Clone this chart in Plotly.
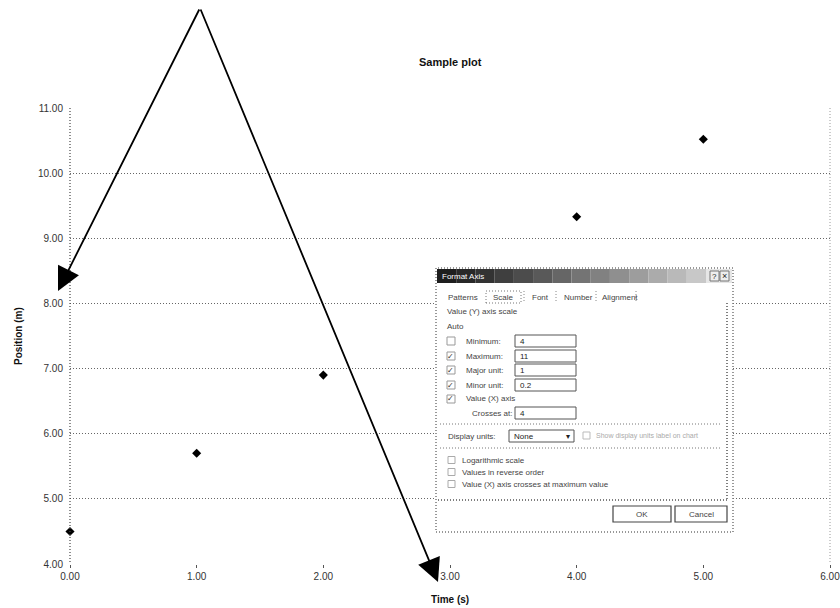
import plotly.graph_objects as go

# ---- data ----
time_s = [0, 1, 2, 4, 5]
position_m = [4.5, 5.7, 6.9, 9.33, 10.52]
x_ticks = [0, 1, 2, 3, 4, 5, 6]
x_tick_labels = ["0.00", "1.00", "2.00", "3.00", "4.00", "5.00", "6.00"]
y_ticks = [4, 5, 6, 7, 8, 9, 10, 11]
y_tick_labels = ["4.00", "5.00", "6.00", "7.00", "8.00", "9.00", "10.00", "11.00"]

W, H = 840, 608
L, R, T, B = 70, 10, 108, 44
PW, PH = W - L - R, H - T - B

def px(x):
    return (x - L) / PW

def py(y):
    return (H - B - y) / PH

FONT = "Arial, Liberation Sans, sans-serif"
DOT = "1px,2px"
shapes = []
annots = []

def rect(x0, y0, x1, y1, fill="white", line="#555", lw=1, dash="solid"):
    shapes.append(dict(type="rect", xref="paper", yref="paper", layer="above",
                       x0=px(x0), x1=px(x1), y0=py(y1), y1=py(y0),
                       fillcolor=fill, line=dict(color=line, width=lw, dash=dash)))

def hline(x0, x1, y, color="#666", lw=1, dash=DOT):
    shapes.append(dict(type="line", xref="paper", yref="paper", layer="above",
                       x0=px(x0), x1=px(x1), y0=py(y), y1=py(y),
                       line=dict(color=color, width=lw, dash=dash)))

def vline(x, y0, y1, color="#666", lw=1, dash=DOT):
    shapes.append(dict(type="line", xref="paper", yref="paper", layer="above",
                       x0=px(x), x1=px(x), y0=py(y0), y1=py(y1),
                       line=dict(color=color, width=lw, dash=dash)))

def text(x, y, s, size=8, color="#444", anchor="left", bold=False):
    if bold:
        s = "<b>" + s + "</b>"
    annots.append(dict(xref="paper", yref="paper", x=px(x), y=py(y), text=s,
                       showarrow=False, xanchor=anchor, yanchor="middle",
                       font=dict(family=FONT, size=size, color=color)))

fig = go.Figure()
fig.add_trace(go.Scatter(x=time_s, y=position_m, mode="markers",
                         marker=dict(symbol="diamond", size=7, color="black"),
                         cliponaxis=False, showlegend=False, hoverinfo="skip"))

# plot area side borders (dotted)
vline(70, 108, 564, color="#444", lw=1.2)
vline(830, 108, 564, color="#999", lw=1)

# ---- Format Axis dialog ----
rect(436, 268, 733, 532, fill="white", line="#777", lw=1.5, dash=DOT)
# title bar gradient
n = 14
for i in range(n):
    x0 = 437 + i * (706 - 437) / n
    x1 = 437 + (i + 1) * (706 - 437) / n
    g = int(30 + 170 * (i / (n - 1)) ** 1.1)
    c = "rgb(%d,%d,%d)" % (g, g, g)
    rect(x0, 269, x1, 283, fill=c, line=c, lw=0)
rect(706, 269, 732, 283, fill="#e6e6e6", line="#e6e6e6", lw=0)
text(440, 276, "Format Axis", size=8, color="white")
rect(710, 271, 719, 281, fill="#eee", line="#777", lw=1)
rect(720, 271, 729, 281, fill="#eee", line="#777", lw=1)
text(714.5, 276, "?", size=8, color="#222", anchor="center")
text(724.5, 276, "×", size=9, color="#222", anchor="center")

# tabs
text(446, 297, "Patterns", size=8)
rect(486, 291, 521, 303, fill="white", line="#777", lw=1, dash=DOT)
text(503.5, 297, "Scale", size=8, anchor="center")
vline(524, 291, 303, color="#888")
text(530, 297, "Font", size=8)
vline(556, 291, 303, color="#888")
text(562, 297, "Number", size=8)
vline(596, 291, 303, color="#888")
text(600, 297, "Alignment", size=8)
vline(636, 291, 303, color="#888")
# panel right edge
vline(727, 303, 500, color="#555", lw=1.5)

text(445, 311, "Value (Y) axis scale", size=8)
text(445, 326, "Auto", size=8)

rows = [(341, "Minimum:", "4", False),
        (356, "Maximum:", "11", True),
        (370, "Major unit:", "1", True),
        (385, "Minor unit:", "0.2", True)]
for y, lab, val, chk in rows:
    rect(447, y - 4, 455, y + 4, fill="white", line="#999", lw=1)
    if chk:
        text(451, y, "✓", size=8, color="#333", anchor="center")
    text(464, y, lab, size=8)
    rect(515, y - 6, 576, y + 6, fill="white", line="#555", lw=1)
    text(518, y, val, size=8, color="#222")

rect(447, 395, 455, 403, fill="white", line="#999", lw=1)
text(451, 399, "✓", size=8, color="#333", anchor="center")
text(464, 399, "Value (X) axis", size=8)
text(470, 413, "Crosses at:", size=8)
rect(515, 407, 576, 419, fill="white", line="#555", lw=1)
text(518, 413, "4", size=8, color="#222")

hline(440, 722, 424, color="#777")

text(446, 436, "Display units:", size=8)
rect(509, 430, 574, 442, fill="white", line="#555", lw=1)
text(512, 436, "None", size=8, color="#222")
text(568, 436, "▾", size=8, color="#222", anchor="center")
rect(583, 432, 590, 439, fill="white", line="#bbb", lw=1)
text(594, 436, "Show display units label on chart", size=7, color="#aaa")

hline(440, 722, 448, color="#777")

checks = [(460, "Logarithmic scale"),
          (472, "Values in reverse order"),
          (484, "Value (X) axis crosses at maximum value")]
for y, lab in checks:
    rect(448, y - 3.5, 455, y + 3.5, fill="white", line="#aaa", lw=1)
    text(460, y, lab, size=8)

hline(438, 727, 500, color="#555", lw=1.5)
rect(613, 506, 671, 522, fill="white", line="#444", lw=1.2)
text(642, 514, "OK", size=8, anchor="center")
rect(675, 506, 727, 522, fill="white", line="#444", lw=1.2)
text(701, 514, "Cancel", size=8, anchor="center")

# ---- arrows ----
apex = (200, 8)
for tip in [(58, 291), (438, 582)]:
    annots.append(dict(xref="paper", yref="paper", x=px(tip[0]), y=py(tip[1]),
                       ax=apex[0] - tip[0], ay=apex[1] - tip[1], text="",
                       showarrow=True, arrowhead=2, arrowsize=2.6,
                       arrowwidth=1.8, arrowcolor="black", standoff=0))

# ---- titles ----
text(450, 62, "Sample plot", size=11, color="#111", anchor="center", bold=True)
text(450, 599, "Time (s)", size=10, color="#111", anchor="center", bold=True)
annots.append(dict(xref="paper", yref="paper", x=px(18), y=py(336),
                   text="<b>Position (m)</b>", showarrow=False, textangle=-90,
                   xanchor="center", yanchor="middle",
                   font=dict(family=FONT, size=10, color="#111")))

fig.update_layout(
    width=W, height=H,
    margin=dict(l=L, r=R, t=T, b=B, autoexpand=False),
    paper_bgcolor="white", plot_bgcolor="white",
    font=dict(family=FONT, size=10, color="#222"),
    hovermode=False,
    xaxis=dict(range=[0, 6], tickvals=x_ticks, ticktext=x_tick_labels,
               showgrid=False, zeroline=False, showline=False,
               ticks="outside", ticklen=3, tickcolor="#555",
               ticklabeloverflow="allow",
               tickfont=dict(size=10, color="#333")),
    yaxis=dict(range=[4, 11], tickvals=y_ticks, ticktext=y_tick_labels,
               showgrid=True, gridcolor="#666", gridwidth=1, griddash=DOT,
               zeroline=False, showline=False, ticks="",
               ticklabelstandoff=6,
               tickfont=dict(size=10, color="#333")),
    shapes=shapes, annotations=annots,
)

fig.write_html("out.html", config={"displayModeBar": False},
               post_script="document.body.style.margin='0';document.body.style.overflow='hidden';")
